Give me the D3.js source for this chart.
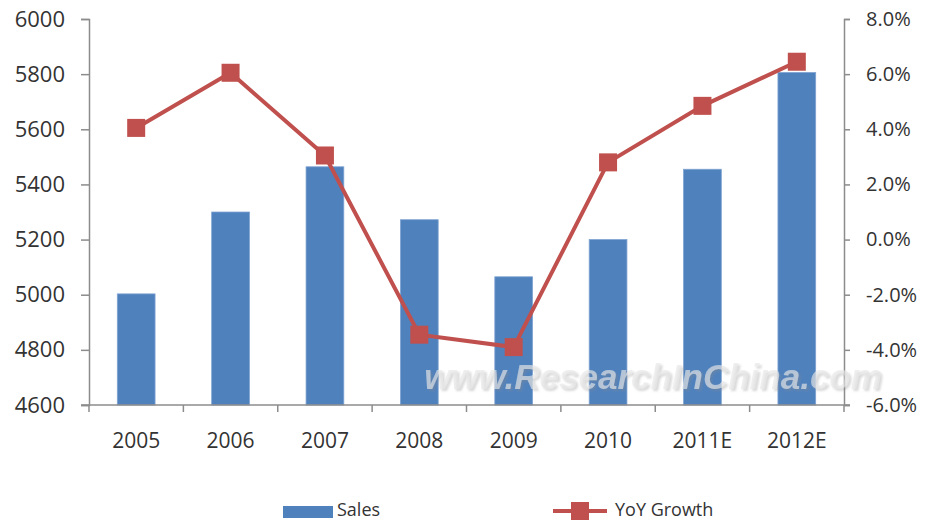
<!DOCTYPE html>
<html>
<head>
<meta charset="utf-8">
<script src="https://cdn.jsdelivr.net/npm/d3@7"></script>
<style>
  body { margin: 0; background: #fff; }
  text { font-family: "Open Sans", "DejaVu Sans", sans-serif; }
</style>
</head>
<body>
<div id="theChart"></div>
<script>
// chart data
const years = ["2005", "2006", "2007", "2008", "2009", "2010", "2011E", "2012E"]
const sales = [5003, 5300, 5464, 5272, 5065, 5200, 5455, 5806]
const yoyGrowth = [4.05, 6.05, 3.05, -3.45, -3.9, 2.8, 4.85, 6.45]
const leftTicks = [4600, 4800, 5000, 5200, 5400, 5600, 5800, 6000]
const rightTicks = [-6, -4, -2, 0, 2, 4, 6, 8]

const w = 928
const h = 522
const margin = { top: 19, right: 84, bottom: 117, left: 89 }
const barColor = "#4f81bd"
const lineColor = "#c0504d"
const axisColor = "#8c8c8c"

const svg = d3.select("#theChart")
	.append("svg")
	.attr("width", w)
	.attr("height", h)

// soft shadow for the watermark
const shadow = svg.append("defs").append("filter")
	.attr("id", "wmShadow")
	.attr("x", "-5%").attr("y", "-20%")
	.attr("width", "110%").attr("height", "150%")
shadow.append("feDropShadow")
	.attr("dx", 2).attr("dy", 2)
	.attr("stdDeviation", 1)
	.attr("flood-color", "#888")
	.attr("flood-opacity", 0.5)

const x = d3.scaleBand()
	.domain(years)
	.range([margin.left, w - margin.right])
	.paddingInner(0.6)
	.paddingOuter(0.3)

const xBand = d3.scaleBand()
	.domain(years)
	.range([margin.left, w - margin.right])

const yLeft = d3.scaleLinear()
	.domain([4600, 6000])
	.range([h - margin.bottom, margin.top])

const yRight = d3.scaleLinear()
	.domain([-6, 8])
	.range([h - margin.bottom, margin.top])

// bars
svg.append("g")
	.selectAll("rect")
	.data(sales)
	.enter()
	.append("rect")
	.attr("x", (d, i) => xBand(years[i]) + xBand.bandwidth() / 2 - x.bandwidth() / 2)
	.attr("width", x.bandwidth())
	.attr("y", d => yLeft(d))
	.attr("height", d => yLeft(4600) - yLeft(d))
	.attr("fill", barColor)
	.attr("stroke", "#7fa3d1")
	.attr("stroke-width", 0.8)

// left axis
const leftAxis = svg.append("g")
	.attr("transform", `translate(${margin.left},0)`)
	.call(d3.axisLeft(yLeft).tickValues(leftTicks).tickSize(8).tickPadding(16).tickFormat(d3.format("d")))
leftAxis.select(".domain").attr("stroke", axisColor).attr("stroke-width", 1.5)
leftAxis.selectAll(".tick line").attr("stroke", axisColor).attr("stroke-width", 1.5)
leftAxis.selectAll(".tick text")
	.attr("font-size", 22)
	.attr("fill", "#333")
	.style("font-family", "'Open Sans', sans-serif")

// right axis
const rightAxis = svg.append("g")
	.attr("transform", `translate(${w - margin.right},0)`)
	.call(d3.axisRight(yRight).tickValues(rightTicks).tickSize(6).tickPadding(16).tickFormat(d => d.toFixed(1) + "%"))
rightAxis.select(".domain").attr("stroke", axisColor).attr("stroke-width", 1.5)
rightAxis.selectAll(".tick line").attr("stroke", axisColor).attr("stroke-width", 1.5)
rightAxis.selectAll(".tick text")
	.attr("font-size", 20)
	.attr("fill", "#333")
	.style("font-family", "'Open Sans', sans-serif")

// bottom axis with ticks between categories
const bottomAxis = svg.append("g")
	.attr("transform", `translate(0,${h - margin.bottom})`)
bottomAxis.append("line")
	.attr("x1", margin.left - 8)
	.attr("x2", w - margin.right + 6)
	.attr("stroke", axisColor)
	.attr("stroke-width", 1.5)
bottomAxis.selectAll(".sep")
	.data(years.concat(["end"]))
	.enter()
	.append("line")
	.attr("class", "sep")
	.attr("x1", (d, i) => margin.left + i * xBand.bandwidth())
	.attr("x2", (d, i) => margin.left + i * xBand.bandwidth())
	.attr("y1", 0)
	.attr("y2", 7)
	.attr("stroke", axisColor)
	.attr("stroke-width", 1.5)
bottomAxis.selectAll(".lbl")
	.data(years)
	.enter()
	.append("text")
	.attr("class", "lbl")
	.attr("x", d => xBand(d) + xBand.bandwidth() / 2)
	.attr("y", 43)
	.attr("text-anchor", "middle")
	.attr("font-size", 21)
	.attr("fill", "#333")
	.text(d => d)

// watermark
svg.append("text")
	.attr("x", 653)
	.attr("y", 389)
	.attr("text-anchor", "middle")
	.attr("font-size", 35)
	.attr("font-weight", "bold")
	.attr("font-style", "italic")
	.style("font-family", "'Liberation Sans', Arial, sans-serif")
	.attr("fill", "#e6e6e6")
	.attr("fill-opacity", 0.65)
	.attr("filter", "url(#wmShadow)")
	.text("www.ResearchInChina.com")

// growth line
const cx = (d, i) => xBand(years[i]) + xBand.bandwidth() / 2
const line = d3.line()
	.x(cx)
	.y(d => yRight(d))

svg.append("path")
	.datum(yoyGrowth)
	.attr("d", line)
	.attr("fill", "none")
	.attr("stroke", lineColor)
	.attr("stroke-width", 4)

const mk = 18
svg.append("g")
	.selectAll("rect")
	.data(yoyGrowth)
	.enter()
	.append("rect")
	.attr("x", (d, i) => cx(d, i) - mk / 2)
	.attr("y", d => yRight(d) - mk / 2)
	.attr("width", mk)
	.attr("height", mk)
	.attr("fill", lineColor)

// legend
const legend = svg.append("g")
legend.append("rect")
	.attr("x", 283)
	.attr("y", 506)
	.attr("width", 50)
	.attr("height", 12)
	.attr("fill", barColor)
legend.append("text")
	.attr("x", 337)
	.attr("y", 516)
	.attr("font-size", 18)
	.attr("fill", "#333")
	.text("Sales")
legend.append("line")
	.attr("x1", 553)
	.attr("x2", 607)
	.attr("y1", 511)
	.attr("y2", 511)
	.attr("stroke", lineColor)
	.attr("stroke-width", 4)
legend.append("rect")
	.attr("x", 580 - 9)
	.attr("y", 511 - 9)
	.attr("width", 18)
	.attr("height", 18)
	.attr("fill", lineColor)
legend.append("text")
	.attr("x", 615)
	.attr("y", 516)
	.attr("font-size", 18)
	.attr("fill", "#333")
	.text("YoY Growth")
</script>
</body>
</html>
